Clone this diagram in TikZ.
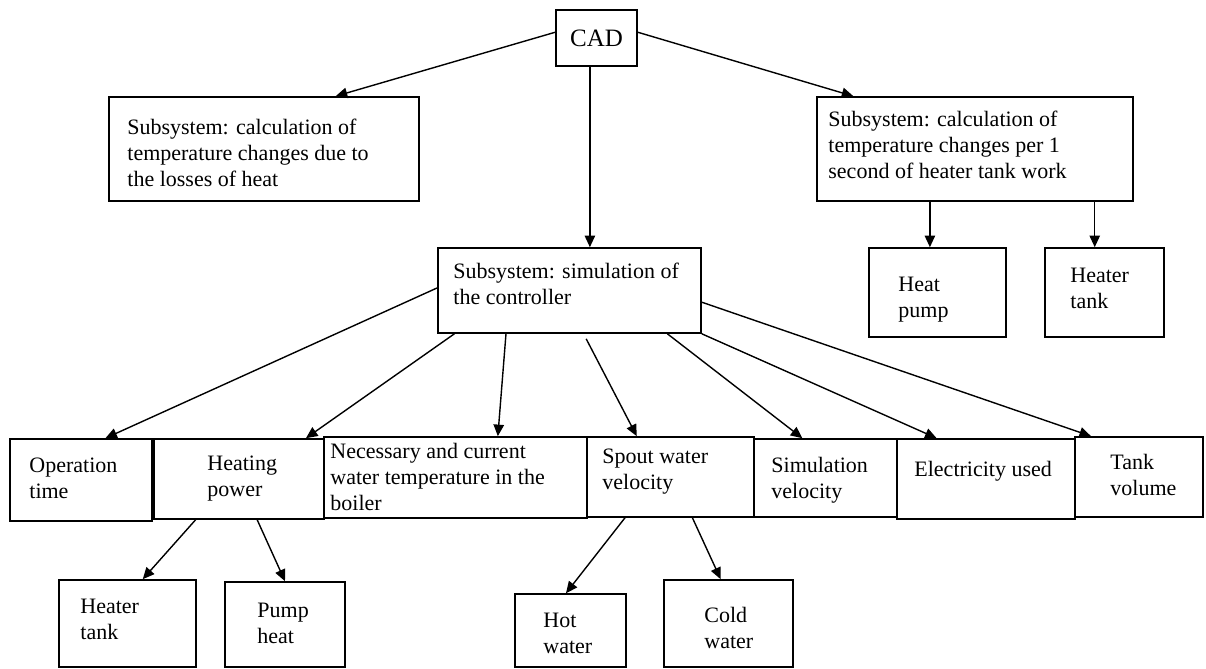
\documentclass[tikz,border=0pt]{standalone}
\usepackage{fontspec}
\setmainfont{Liberation Serif}
\usetikzlibrary{arrows.meta,calc,fit}
\begin{document}
\begin{tikzpicture}[x=0.5pt,y=-0.5pt,
  box/.style={draw, line width=0.8pt, inner sep=0pt},
  txt/.style={inner sep=0pt, anchor=north west, align=left, font=\fontsize{11}{13}\selectfont},
  arr/.style={-{Triangle[length=5.8pt,width=5.2pt]}, line width=0.7pt}]
\useasboundingbox (0,0) rectangle (1206,669);
% boxes
\node[box, fit={(556,10)(637,66)}] (cad) {};
\node[box, fit={(109,97)(419,201)}] (loss) {};
\node[box, fit={(817,97)(1133,201)}] (per) {};
\node[box, fit={(438,248)(701,333)}] (ctrl) {};
\node[box, fit={(869,248)(1006,337)}] (hpump) {};
\node[box, fit={(1045,248)(1164,337)}] (htankA) {};
\node[box, fit={(10,439)(152,521)}] (optime) {};
\node[box, fit={(154,439)(324,519)}] (heatpow) {};
\node[box, fit={(324,437)(587,518)}] (necess) {};
\node[box, fit={(587,437)(754,517)}] (spout) {};
\node[box, fit={(754,439)(897,517)}] (simvel) {};
\node[box, fit={(897,439)(1075,519)}] (elec) {};
\node[box, fit={(1075,437)(1203,517)}] (tankvol) {};
\node[box, fit={(59,580)(196,667)}] (htankB) {};
\node[box, fit={(225,582)(345,667)}] (pumpheat) {};
\node[box, fit={(515,594)(626,667)}] (hotw) {};
\node[box, fit={(664,580)(793,667)}] (coldw) {};
% texts
\node[inner sep=0pt, font=\fontsize{12.5}{14}\selectfont] (cadT) at (cad.center) {CAD};
\node[txt] (lossT) at (127,119) {Subsystem: calculation of\\temperature changes due to\\the losses of heat};
\node[txt] (perT) at (828,111) {Subsystem: calculation of\\temperature changes per 1\\second of heater tank work};
\node[txt] (ctrlT) at (453,263) {Subsystem: simulation of\\the controller};
\node[txt] (hpumpT) at (898,277) {Heat\\pump};
\node[txt] (htankAT) at (1070,268) {Heater\\tank};
\node[txt] (optimeT) at (29,458) {Operation\\time};
\node[txt] (heatpowT) at (207,456) {Heating\\power};
\node[txt] (necessT) at (330,443) {Necessary and current\\water temperature in the\\boiler};
\node[txt] (spoutT) at (602,449) {Spout water\\velocity};
\node[txt] (simvelT) at (771,457) {Simulation\\velocity};
\node[txt] (elecT) at (914,461) {Electricity used};
\node[txt] (tankvolT) at (1110,454) {Tank\\volume};
\node[txt] (htankBT) at (80,599) {Heater\\tank};
\node[txt] (pumpheatT) at (257,603) {Pump\\heat};
\node[txt] (hotwT) at (543,613) {Hot\\water};
\node[txt] (coldwT) at (704,607) {Cold\\water};
% connectors
\draw[arr] ($(cad.north west)!0.4!(cad.south west)$) -- ($(loss.north west)!0.73!(loss.north east)$);
\draw[arr] ($(cad.south west)!0.42!(cad.south east)$) coordinate (c1) -- (c1 |- ctrl.north);
\draw[arr] ($(cad.north east)!0.4!(cad.south east)$) -- ($(per.north west)!0.117!(per.north east)$);
\draw[arr] ($(per.south west)!0.358!(per.south east)$) coordinate (c2) -- (c2 |- hpump.north);
\draw[arr] ($(per.south west)!0.877!(per.south east)$) coordinate (c3) -- (c3 |- htankA.north);
\draw[arr] ($(ctrl.north west)!0.47!(ctrl.south west)$) -- ($(optime.north west)!0.67!(optime.north east)$);
\draw[arr] ($(ctrl.south west)!0.065!(ctrl.south east)$) -- ($(heatpow.north west)!0.89!(heatpow.north east)$);
\draw[arr] ($(ctrl.south west)!0.26!(ctrl.south east)$) -- ($(necess.north west)!0.66!(necess.north east)$);
\draw[arr] ($(ctrl.south west)!0.563!(ctrl.south east) + (0,5)$) -- ($(spout.north west)!0.30!(spout.north east)$);
\draw[arr] ($(ctrl.south west)!0.87!(ctrl.south east)$) -- ($(simvel.north west)!0.34!(simvel.north east)$);
\draw[arr] (ctrl.south east) -- ($(elec.north west)!0.225!(elec.north east)$);
\draw[arr] ($(ctrl.north east)!0.635!(ctrl.south east)$) -- ($(tankvol.north west)!0.13!(tankvol.north east)$);
\draw[arr] ($(heatpow.south west)!0.247!(heatpow.south east)$) -- ($(htankB.north west)!0.61!(htankB.north east)$);
\draw[arr] ($(heatpow.south west)!0.606!(heatpow.south east)$) -- ($(pumpheat.north west)!0.5!(pumpheat.north east)$);
\draw[arr] ($(spout.south west)!0.23!(spout.south east)$) -- ($(hotw.north west)!0.46!(hotw.north east)$);
\draw[arr] ($(spout.south west)!0.63!(spout.south east)$) -- ($(coldw.north west)!0.44!(coldw.north east)$);
\end{tikzpicture}
\end{document}
